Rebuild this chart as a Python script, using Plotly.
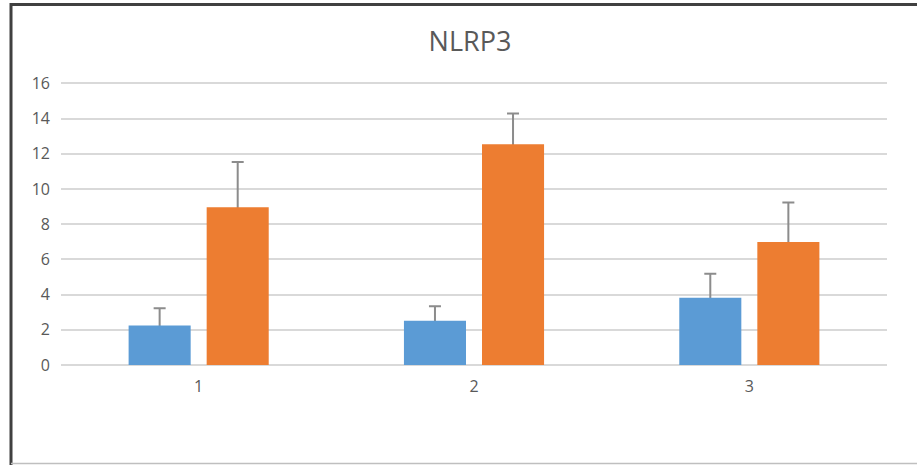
import plotly.graph_objects as go

categories = ["1", "2", "3"]
blue_values = [2.25, 2.52, 3.82]
blue_errors = [0.98, 0.82, 1.36]
orange_values = [8.97, 12.55, 6.99]
orange_errors = [2.57, 1.74, 2.25]
y_ticks = [0, 2, 4, 6, 8, 10, 12, 14, 16]

W, H = 917, 465
L, R, T, B = 61, 30, 82, 100
Y_MAX = 16.08

fig = go.Figure()
err_style = dict(type="data", visible=True, color="#8C8C8C", thickness=2, width=6, symmetric=False)
# error bars first (hidden bars), then the real bars drawn on top so the lower cap is covered
for vals, errs, grp in [(blue_values, blue_errors, "a"), (orange_values, orange_errors, "b")]:
    fig.add_trace(go.Bar(x=categories, y=vals, offsetgroup=grp,
                         marker=dict(color="rgba(0,0,0,0)", line=dict(width=0)),
                         error_y=dict(array=errs, arrayminus=[0.3] * len(errs), **err_style),
                         showlegend=False, hoverinfo="skip"))
fig.add_trace(go.Bar(x=categories, y=blue_values, offsetgroup="a",
                     marker=dict(color="#5B9BD5", line=dict(width=0)), showlegend=False))
fig.add_trace(go.Bar(x=categories, y=orange_values, offsetgroup="b",
                     marker=dict(color="#ED7D31", line=dict(width=0)), showlegend=False))

pw = W - L - R
ph = H - T - B
def px_to_paper_x(px):
    return (px - L) / pw
def px_to_paper_y(py):
    return (H - B - py) / ph

fig.update_layout(
    width=W, height=H,
    margin=dict(l=L, r=R, t=T, b=B),
    paper_bgcolor="white", plot_bgcolor="white",
    barmode="group", bargap=0.433, bargroupgap=0.205,
    font=dict(family="Open Sans", color="#595959", size=16),
    title=dict(text="NLRP3", x=470 / W, xanchor="center", y=1 - 42 / H, yanchor="middle",
               font=dict(size=27, color="#595959", family="Open Sans")),
    xaxis=dict(showgrid=False, showline=False, ticks="", tickfont=dict(size=16, color="#595959"),
               ticklabelstandoff=10),
    yaxis=dict(range=[0, Y_MAX], tickvals=y_ticks, showgrid=True, gridcolor="#D9D9D9", gridwidth=1.5,
               zeroline=True, zerolinecolor="#D9D9D9", zerolinewidth=1.5, showline=False, ticks="",
               tickfont=dict(size=16, color="#595959"), ticklabelstandoff=10),
    shapes=[
        dict(type="line", xref="paper", yref="paper", x0=px_to_paper_x(10), x1=px_to_paper_x(917),
             y0=px_to_paper_y(4.5), y1=px_to_paper_y(4.5), line=dict(color="#404040", width=3)),
        dict(type="line", xref="paper", yref="paper", x0=px_to_paper_x(11), x1=px_to_paper_x(11),
             y0=px_to_paper_y(3), y1=px_to_paper_y(465), line=dict(color="#404040", width=3)),
        dict(type="line", xref="paper", yref="paper", x0=px_to_paper_x(11), x1=px_to_paper_x(917),
             y0=px_to_paper_y(463.5), y1=px_to_paper_y(463.5), line=dict(color="#BFBFBF", width=1.5)),
    ],
)
fig.write_html("out.html", config={"displayModeBar": False},
               post_script="document.body.style.margin='0';document.body.style.overflow='hidden';")
